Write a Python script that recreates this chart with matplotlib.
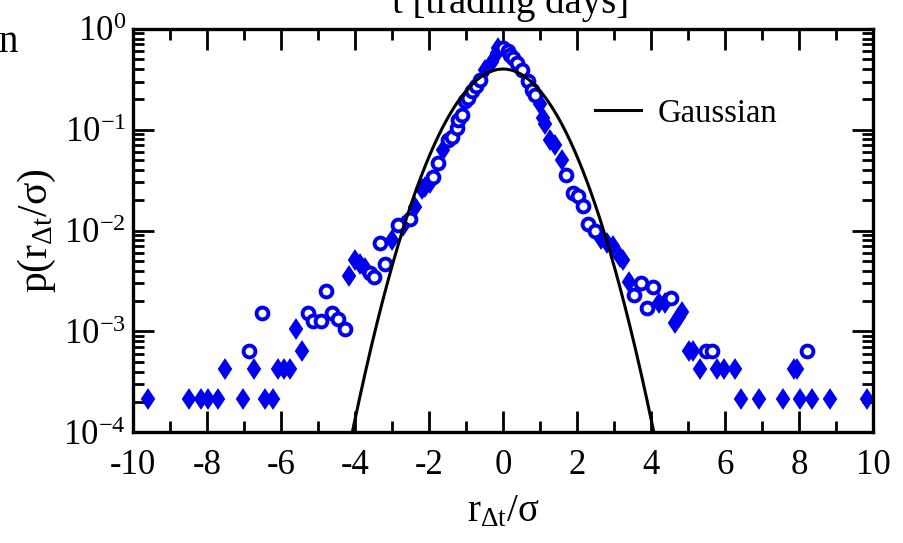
import numpy as np
import matplotlib
matplotlib.use("Agg")
import matplotlib.pyplot as plt
from matplotlib.ticker import LogLocator, MultipleLocator

plt.rcParams["font.family"] = ["Liberation Serif", "DejaVu Serif"]
plt.rcParams["mathtext.fontset"] = "custom"
plt.rcParams["mathtext.rm"] = "Liberation Serif"
plt.rcParams["mathtext.it"] = "Liberation Serif"
plt.rcParams["mathtext.default"] = "rm"
plt.rcParams["axes.unicode_minus"] = False

# filled diamonds
diamond_x = [-9.59, -8.48, -8.16, -7.98, -7.69, -7.02, -6.43, -6.21,
             -7.51, -6.72, -6.09, -5.91, -5.76, -5.42, -5.59,
             -4.16, -4.00, -3.86, -3.73, -3.01, -2.69, -2.38, -2.20,
             -2.11, -1.97, -1.61, -0.49, -0.31, -0.17, -0.13,
             1.00, 1.09, 1.14, 1.27, 1.41, 1.58, 2.65, 2.82, 2.97,
             3.15, 3.23, 3.39, 4.20, 4.38, 4.65, 4.74, 4.83,
             5.03, 5.12, 5.31, 5.77, 5.97, 6.27, 7.85, 7.94,
             6.42, 6.92, 7.56, 8.03, 8.34, 8.84, 9.83]
diamond_p = [2.14e-4, 2.14e-4, 2.14e-4, 2.14e-4, 2.14e-4, 2.14e-4, 2.14e-4, 2.14e-4,
             4.27e-4, 4.27e-4, 4.27e-4, 4.27e-4, 4.27e-4, 6.46e-4, 1.05e-3,
             3.55e-3, 5.13e-3, 4.68e-3, 4.27e-3, 8.13e-3, 1.10e-2, 1.70e-2, 2.57e-2,
             2.69e-2, 2.95e-2, 6.31e-2, 0.389, 0.473, 0.575, 0.646,
             0.178, 0.129, 0.115, 0.0794, 0.0708, 0.0501, 8.32e-3, 7.59e-3, 7.08e-3,
             5.50e-3, 5.13e-3, 3.09e-3, 1.91e-3, 1.91e-3, 1.20e-3, 1.38e-3, 1.55e-3,
             6.46e-4, 6.46e-4, 4.27e-4, 4.27e-4, 4.27e-4, 4.27e-4, 4.27e-4, 4.27e-4,
             2.14e-4, 2.14e-4, 2.14e-4, 2.14e-4, 2.14e-4, 2.14e-4, 2.14e-4]

# open circles
circle_x = [-6.86, -6.52, -5.26, -5.13, -4.93, -4.77, -4.63, -4.46, -4.27,
            -3.59, -3.49, -3.32, -3.19, -2.83, -2.51, -1.88, -1.75, -1.48,
            -1.39, -1.25, -1.21, -1.12, -1.03, -0.94, -0.85, -0.73, -0.62,
            0.01, 0.14, 0.19, 0.28, 0.37, 0.50, 0.68, 0.77, 0.86,
            1.71, 1.89, 2.03, 2.16, 2.30, 2.47,
            3.54, 3.72, 3.88, 4.04, 4.53, 5.49, 5.64, 8.22]
circle_p = [6.46e-4, 1.51e-3, 1.51e-3, 1.26e-3, 1.26e-3, 2.51e-3, 1.51e-3, 1.32e-3, 1.05e-3,
            3.80e-3, 3.47e-3, 7.59e-3, 4.68e-3, 1.14e-2, 1.29e-2, 3.39e-2, 4.68e-2, 7.94e-2,
            8.51e-2, 0.104, 0.126, 0.141, 0.191, 0.204, 0.240, 0.269, 0.312,
            0.646, 0.596, 0.550, 0.513, 0.457, 0.389, 0.302, 0.245, 0.221,
            3.55e-2, 2.34e-2, 2.19e-2, 1.74e-2, 1.17e-2, 1.0e-2,
            2.29e-3, 3.02e-3, 1.70e-3, 2.75e-3, 2.14e-3, 6.46e-4, 6.46e-4, 6.46e-4]

# reference gaussian
mu = 0.0
sigma = 1.0
gx = np.linspace(-4.5, 4.5, 400)
gy = np.exp(-(gx - mu) ** 2 / (2 * sigma ** 2)) / (sigma * np.sqrt(2 * np.pi))

blue = "#0000ee"

fig = plt.figure(figsize=(9.04, 5.43), dpi=100)
ax = fig.add_axes([0.147, 0.204, 0.819, 0.743])

ax.plot(diamond_x, diamond_p, linestyle="none", marker="d", markersize=9.5,
        markerfacecolor=blue, markeredgecolor=blue, markeredgewidth=1.5)
ax.plot(circle_x, circle_p, linestyle="none", marker="o", markersize=8.5,
        markerfacecolor="white", markeredgecolor=blue, markeredgewidth=2.8)
ax.plot(gx, gy, color="black", linewidth=2.2, label="Gaussian")

ax.set_yscale("log")
ax.set_xlim(-10, 10)
ax.set_ylim(1e-4, 1)

ax.xaxis.set_major_locator(MultipleLocator(2))
ax.xaxis.set_minor_locator(MultipleLocator(1))
ax.yaxis.set_major_locator(LogLocator(base=10, numticks=10))
ax.yaxis.set_minor_locator(LogLocator(base=10, subs=np.arange(2, 10), numticks=10))

for side in ax.spines.values():
    side.set_linewidth(2.4)
ax.tick_params(which="both", direction="in", top=True, right=True, width=2,
               labelsize=25)
ax.tick_params(which="major", length=15)
ax.tick_params(which="minor", length=8)
ax.tick_params(axis="x", which="major", pad=12)
ax.tick_params(axis="y", which="major", pad=5)

ax.set_xlabel(r"r$_{\Delta t}$/$\sigma$", fontsize=28, labelpad=8)
ax.set_ylabel(r"p(r$_{\Delta t}$/$\sigma$)", fontsize=30, labelpad=4)

ax.legend(loc="center left", bbox_to_anchor=(0.585, 0.79), frameon=False,
          fontsize=23.5, handlelength=1.4, handletextpad=0.5)

fig.text(0.565, 0.976, "t [trading days]", ha="center", va="baseline", fontsize=28)
fig.text(-0.002, 0.905, "n", ha="left", va="baseline", fontsize=28)

fig.savefig("out.png", dpi=100)
